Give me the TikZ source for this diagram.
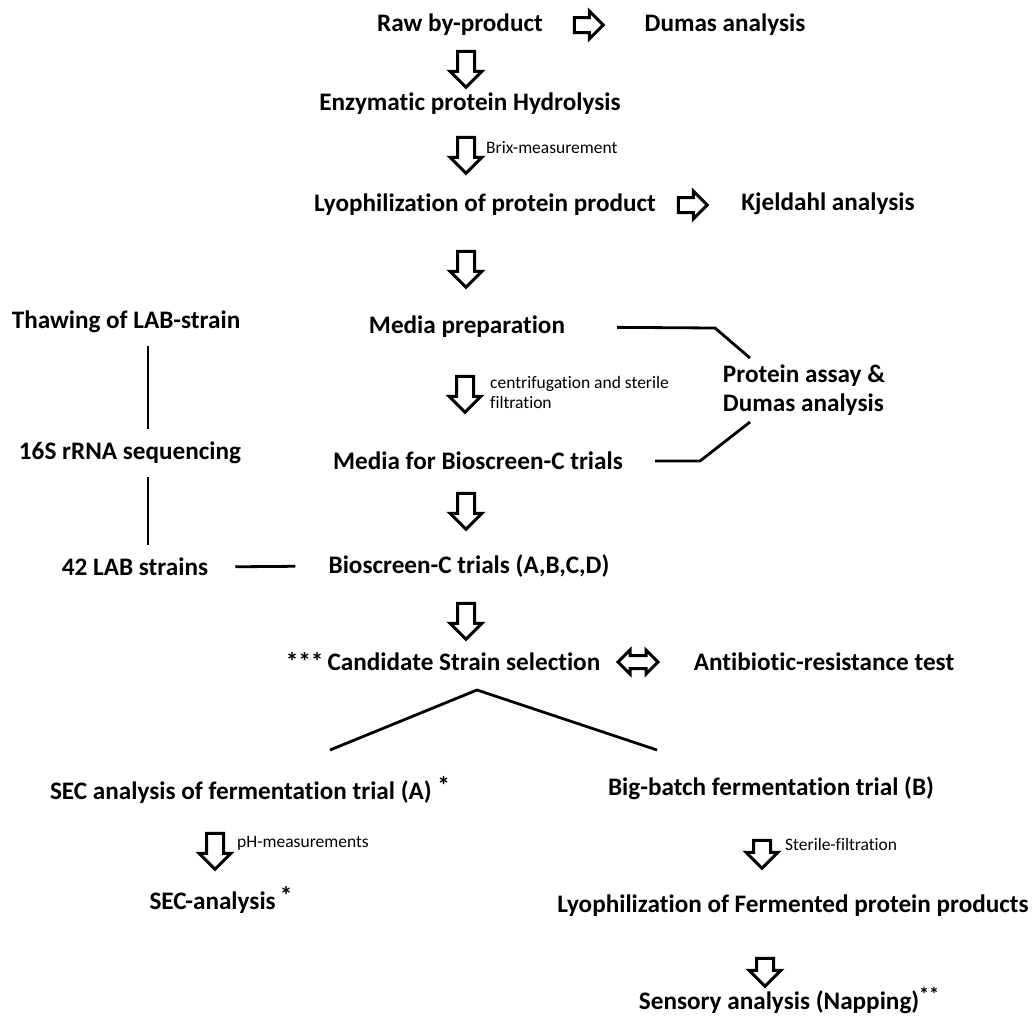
\documentclass[tikz,border=0pt]{standalone}
\usepackage{fontspec}
\setmainfont[Ligatures=NoCommon]{Carlito}
\usetikzlibrary{shapes.arrows}
\begin{document}
\begin{tikzpicture}[x=1pt,y=-1pt,
  big/.style={font=\fontsize{25.2}{29}\selectfont\bfseries, inner sep=0pt},
  side/.style={big, inner ysep=13pt},
  lbl/.style={font=\fontsize{17.5}{20}\selectfont, inner sep=0pt, anchor=west, align=left},
  link/.style={line width=2.8pt},
  hollowdown/.style={single arrow, draw, line width=3pt, inner xsep=0pt, inner ysep=7pt,
    single arrow head extend=7.5pt, single arrow tip angle=90,
    minimum height=36pt, rotate=-90},
  hollowright/.style={single arrow, draw, line width=3pt, inner xsep=0pt, inner ysep=6pt,
    single arrow head extend=6.5pt, single arrow tip angle=90,
    minimum height=29pt},
  hollowboth/.style={double arrow, draw, line width=3pt, inner xsep=0pt, inner ysep=5pt,
    double arrow head extend=5.5pt, double arrow tip angle=90,
    minimum height=40pt}]
\useasboundingbox (0,0) rectangle (1035,1017);

% main column
\node[big] (raw) at (460,25) {Raw by-product};
\node[big] (dumas) at (725,25) {Dumas analysis};
\node[big] (enz) at (470,104) {Enzymatic protein Hydrolysis};
\node[big] (lyo) at (485,205) {Lyophilization of protein product};
\node[big] (kj) at (828,204) {Kjeldahl analysis};
\node[big] (mprep) at (467,327) {Media preparation};
\node[big, align=left] (prot) at (804,390) {Protein assay \&\\Dumas analysis};
\node[big] (mbio) at (478,461) {Media for Bioscreen-C trials};
\node[big] (bio) at (469,566) {Bioscreen-C trials (A,B,C,D)};
\node[big] (cand) at (443,662) {***\,Candidate Strain selection};
\node[big] (anti) at (824,662) {Antibiotic-resistance test};

% left column
\node[side] (thaw) at (126,322) {Thawing of LAB-strain};
\node[side] (s16) at (130,453) {16S rRNA sequencing};
\node[side] (lab) at (135,567) {42 LAB strains};

% lower branches
\node[big] (seca) at (250,790) {SEC analysis of fermentation trial (A) \raisebox{5pt}{*}};
\node[big] (secan) at (221,900) {SEC-analysis\,\raisebox{5pt}{*}};
\node[big] (bigb) at (771,788) {Big-batch fermentation trial (B)};
\node[big] (lyof) at (793,906) {Lyophilization of Fermented protein products};
\node[big] (sens) at (789,1000) {Sensory analysis (Napping)\raisebox{8pt}{\fontsize{20}{20}\selectfont **}};

% small labels
\node[lbl] (brix) at (486,148) {Brix-measurement};
\node[lbl] (centri) at (490,392) {centrifugation and sterile\\filtration};
\node[lbl] (ph) at (237,843) {pH-measurements};
\node[lbl] (steril) at (785,844) {Sterile-filtration};

% hollow arrows
\node[hollowright] (aR1) at (585,25) {};
\node[hollowright] (aR2) at (689,205) {};
\node[hollowdown] (a1) at (466,65) {};
\node[hollowdown] (a2) at (466,151) {};
\node[hollowdown] (a3) at (466,265) {};
\node[hollowdown] (a4) at (465,390) {};
\node[hollowdown] (a5) at (466,507) {};
\node[hollowdown] (a6) at (466,617) {};
\node[hollowboth] (aLR) at (638,662) {};
\node[hollowdown] (a7) at (215,847) {};
\node[hollowdown, minimum height=28pt] (a8) at (762,850) {};
\node[hollowdown, minimum height=28pt] (a9) at (765,968) {};

% connector lines
\coordinate (vx) at (148,0);
\draw[link] (thaw.south -| vx) -- (s16.north -| vx);
\draw[link] (s16.south -| vx) -- (lab.north -| vx);
\draw[link, shorten <=27pt, shorten >=33pt] (lab.east) -- (bio.west);

\coordinate (e1) at (715,328);
\coordinate (p1) at (750,358);
\draw[link, shorten <=52pt] (mprep.east) -- (e1) -- (p1);
\coordinate (e2) at (700,461);
\coordinate (p2) at (750,422);
\draw[link, shorten <=32pt] (mbio.east) -- (e2) -- (p2);

\coordinate (fork) at (477,690);
\coordinate (forkA) at (330,750);
\coordinate (forkB) at (657,750);
\draw[link] (forkA) -- (fork) -- (forkB);
\end{tikzpicture}
\end{document}
